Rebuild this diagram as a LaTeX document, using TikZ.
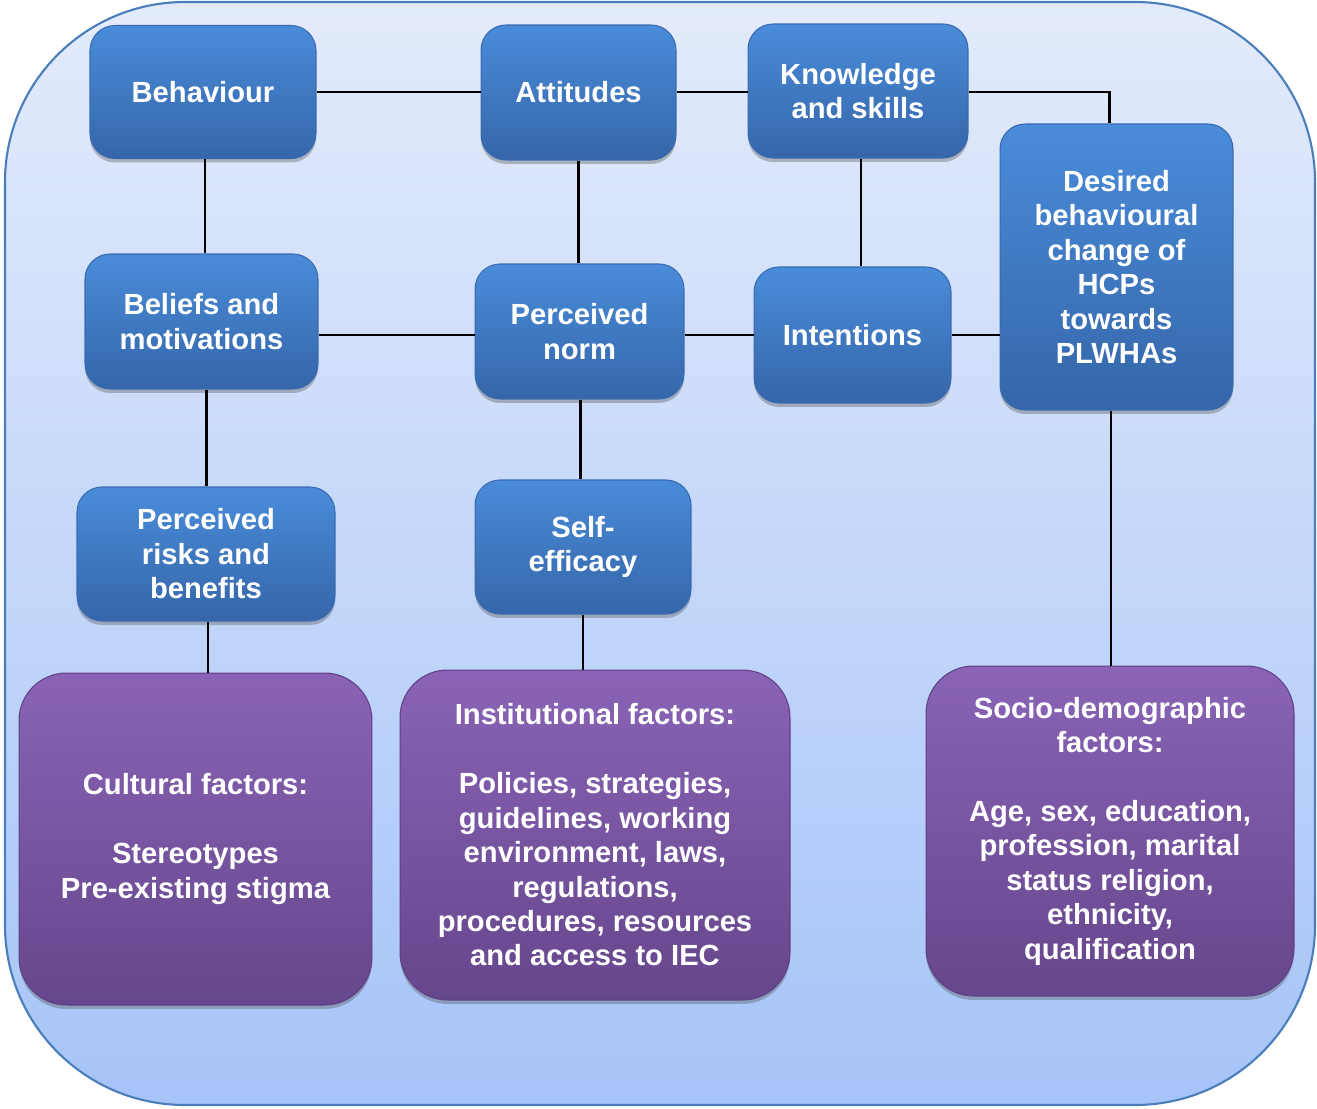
\documentclass[tikz,border=0pt]{standalone}
\usepackage{fontspec}
\setmainfont{Liberation Sans}
\usepackage{tikz}
\usetikzlibrary{shadows}

\definecolor{bgtop}{HTML}{E3EBFB}
\definecolor{bgbot}{HTML}{A6C4F8}
\definecolor{bgline}{HTML}{4A7EBB}
\definecolor{bluetop}{HTML}{4A8CDA}
\definecolor{bluebot}{HTML}{3566A9}
\definecolor{blueline}{HTML}{3A6AAE}
\definecolor{purptop}{HTML}{8A63B6}
\definecolor{purpbot}{HTML}{66468C}
\definecolor{purpline}{HTML}{5E4085}

\begin{document}
\begin{tikzpicture}[x=0.02cm, y=-0.02cm,
	construct/.style={rounded corners=0.5cm, top color=bluetop, bottom color=bluebot, draw=blueline, line width=0.6pt,
		text=white, align=center, inner sep=0pt, font=\fontsize{16.6}{19.6}\selectfont\bfseries,
		drop shadow={shadow xshift=0pt, shadow yshift=-0.08cm, opacity=0.35, fill=black!70}},
	factor/.style={construct, rounded corners=0.95cm, top color=purptop, bottom color=purpbot, draw=purpline},
	link/.style={line width=1.3pt}]
	  			\useasboundingbox (0,0) rectangle (1317,1108);
	  			\draw[top color=bgtop, bottom color=bgbot, draw=bgline, line width=1.2pt, rounded corners=3.6cm] (5,2) rectangle (1315,1105);

	  			\node[construct, minimum width=4.52cm, minimum height=2.66cm] (behaviour) at (203,92) {Behaviour};
	  			\node[construct, minimum width=3.9cm, minimum height=2.7cm] (attitudes) at (578.5,92.5) {Attitudes};
	  			\node[construct, minimum width=4.4cm, minimum height=2.68cm] (knowledge) at (858,91) {Knowledge\\and skills};
	  			\node[construct, minimum width=4.66cm, minimum height=5.72cm] (desired) at (1116.5,267) {Desired\\behavioural\\change of\\HCPs\\towards\\PLWHAs};
	  			\node[construct, minimum width=4.66cm, minimum height=2.7cm] (beliefs) at (201.5,321.5) {Beliefs and\\motivations};
	  			\node[construct, minimum width=4.18cm, minimum height=2.7cm] (norm) at (579.5,331.5) {Perceived\\norm};
	  			\node[construct, minimum width=3.94cm, minimum height=2.72cm] (intentions) at (852.5,335) {Intentions};
	  			\node[construct, minimum width=5.16cm, minimum height=2.68cm] (risks) at (206,554) {Perceived\\risks and\\benefits};
	  			\node[construct, minimum width=4.32cm, minimum height=2.68cm] (efficacy) at (583,547) {Self-\\efficacy};

	  			\node[factor, minimum width=7.06cm, minimum height=6.64cm] (cultural) at (195.5,839) {Cultural factors:\\[19.6pt]Stereotypes\\Pre-existing stigma};
	  			\node[factor, minimum width=7.8cm, minimum height=6.6cm] (institutional) at (595,835) {Institutional factors:\\[19.6pt]Policies, strategies,\\guidelines, working\\environment, laws,\\regulations,\\procedures, resources\\and access to IEC};
	  			\node[factor, minimum width=7.36cm, minimum height=6.6cm] (socio) at (1110,831) {Socio-demographic\\factors:\\[19.6pt]Age, sex, education,\\profession, marital\\status religion,\\ethnicity,\\qualification};

	  			\draw[link] (behaviour.east) -- (behaviour.east -| attitudes.west);
	  			\draw[link] (behaviour.east -| attitudes.east) -- (behaviour.east -| knowledge.west);
	  			\draw[link] (behaviour.east -| knowledge.east) -| ([xshift=-0.14cm]desired.north);
	  			\draw[link] ([xshift=0.04cm]behaviour.south) -- ([xshift=0.04cm]behaviour.south |- beliefs.north);
	  			\draw[link] (attitudes.south) -- (attitudes.south |- norm.north);
	  			\draw[link] ([xshift=0.06cm]knowledge.south) -- ([xshift=0.06cm]knowledge.south |- intentions.north);
	  			\draw[link] (intentions.west -| beliefs.east) -- (intentions.west -| norm.west);
	  			\draw[link] (intentions.west -| norm.east) -- (intentions.west);
	  			\draw[link] (intentions.east) -- (intentions.east -| desired.west);
	  			\draw[link] ([xshift=0.1cm]beliefs.south) -- ([xshift=0.1cm]beliefs.south |- risks.north);
	  			\draw[link] ([xshift=0.02cm]norm.south) -- ([xshift=0.02cm]norm.south |- efficacy.north);
	  			\draw[link] ([xshift=0.04cm]risks.south) -- ([xshift=0.04cm]risks.south |- cultural.north);
	  			\draw[link] (efficacy.south) -- (efficacy.south |- institutional.north);
	  			\draw[link] ([xshift=-0.11cm]desired.south) -- ([xshift=-0.11cm]desired.south |- socio.north);
	  		\end{tikzpicture}
\end{document}
